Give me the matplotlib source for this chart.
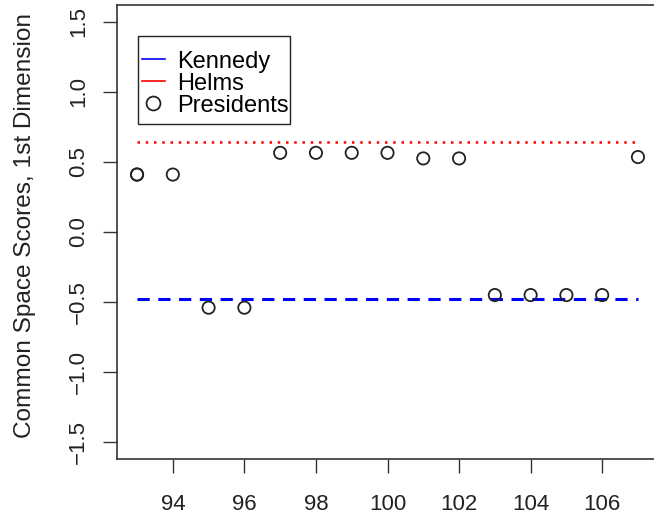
import matplotlib
matplotlib.use("Agg")
import matplotlib.pyplot as plt
from matplotlib.lines import Line2D
from matplotlib.patches import Rectangle

plt.rcParams['font.family'] = ['Liberation Sans', 'DejaVu Sans']

# data
congress = [93, 93, 94, 95, 96, 97, 98, 99, 100, 101, 102, 103, 104, 105, 106, 107]
president = [0.41, 0.41, 0.41, -0.54, -0.54, 0.565, 0.565, 0.565, 0.565, 0.525, 0.525,
             -0.45, -0.45, -0.45, -0.45, 0.535]
kennedy = -0.477
helms = 0.645
x_range = [93, 107]
yticks = [-1.5, -1.0, -0.5, 0.0, 0.5, 1.0, 1.5]
xticks = [94, 96, 98, 100, 102, 104, 106]

fig = plt.figure(figsize=(6.54, 5.14), dpi=100)
ax = fig.add_axes([117 / 654, 55 / 514, 541 / 654, 454 / 514])

ax.plot(x_range, [kennedy, kennedy], color='blue', lw=2.2, ls=(0, (4, 2.8)))
ax.plot(x_range, [helms, helms], color='red', lw=1.8, ls=(0, (1, 2.3)))
ax.scatter(congress, president, s=78, facecolors='none', edgecolors='#222222', linewidths=1.3, zorder=3)

ax.set_xlim(92.44, 107.56)
ax.set_ylim(-1.62, 1.62)
ax.set_xticks(xticks)
ax.set_yticks(yticks)
ax.set_yticklabels([f"{v:.1f}".replace('-', '\u2212') for v in yticks], rotation=90, va='center')
ax.tick_params(axis='both', length=10, width=1, labelsize=16, color='#333333', labelcolor='#222222')
ax.tick_params(axis='x', pad=15)
ax.tick_params(axis='y', pad=10)
for s in ax.spines.values():
    s.set_linewidth(1.2)
    s.set_color('#333333')
ax.set_ylabel('Common Space Scores, 1st Dimension', fontsize=17.6, color='#222222')
ax.yaxis.set_label_coords(-0.150, 0.515)

# legend box drawn separately (R style padding)
ax.add_patch(Rectangle((0.0388, 0.738), 0.281, 0.194, transform=ax.transAxes,
                       facecolor='white', edgecolor='#222222', lw=1.0, zorder=4))
handles = [Line2D([], [], color='blue', lw=1.2),
           Line2D([], [], color='red', lw=1.2),
           Line2D([], [], marker='o', ls='none', markersize=10, markerfacecolor='none',
                  markeredgecolor='#222222', markeredgewidth=1.3)]
leg = ax.legend(handles, ['Kennedy', 'Helms', 'Presidents'], loc='upper left',
                bbox_to_anchor=(0.0388, 0.9075), fontsize=17, frameon=False,
                handlelength=1.0, handletextpad=0.5, borderpad=0.15, labelspacing=0.0,
                borderaxespad=0)
leg.set_zorder(5)

fig.savefig('out.png', dpi=100)
